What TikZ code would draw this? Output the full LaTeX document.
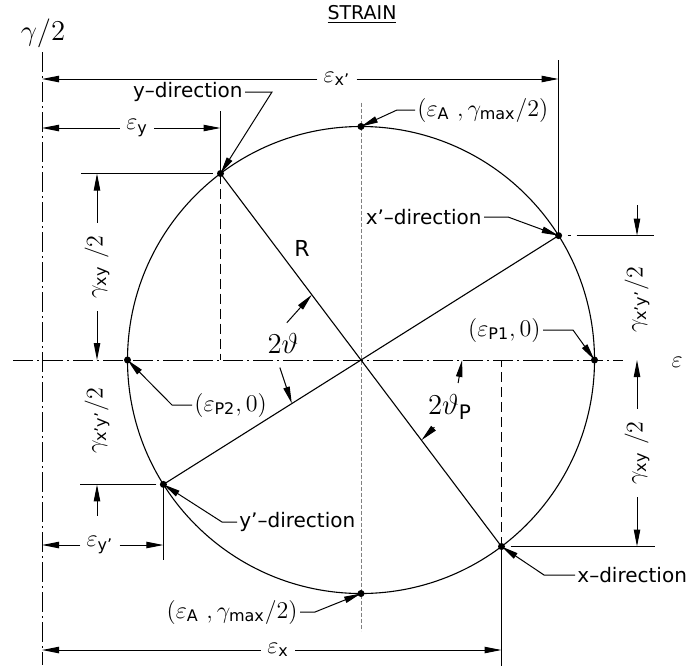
\documentclass[tikz,border=0pt]{standalone}
\usepackage{amsmath}
\usepackage{fontspec}
\setmainfont{DejaVu Sans}
\usetikzlibrary{arrows.meta,calc}

\begin{document}
\begin{tikzpicture}[
    x=0.5pt,y=-0.5pt,
    >={Triangle[length=8.5pt,width=3.2pt]},
    outline/.style={line width=0.55pt, draw=black},
    dimline/.style={line width=0.5pt, draw=black},
    extline/.style={line width=0.5pt, draw=black},
    leader/.style={->, line width=0.5pt, draw=black},
    hidline/.style={line width=0.5pt, draw=black, dash pattern=on 5pt off 2.5pt},
    ctrline/.style={line width=0.5pt, draw=black!50, dash pattern=on 2pt off 1pt},
    axisline/.style={line width=0.5pt, draw=black, dash pattern=on 10pt off 2pt on 1pt off 2pt},
    lbl/.style={font=\fontsize{10}{12}\selectfont, inner sep=1pt},
    mlbl/.style={font=\large, inner sep=1pt},
    dimlbl/.style={font=\large, inner xsep=3pt, inner ysep=1pt},
    vlbl/.style={font=\large, rotate=90, inner xsep=6pt, inner ysep=1pt}
]
    \useasboundingbox (0,0) rectangle (689,665);

    % circle points
    \coordinate (O) at (42,360);
    \coordinate (C) at (361,360);
    \coordinate (Y) at (220.5,173.5);
    \coordinate (X) at (501.5,546.5);
    \coordinate (Xp) at (558.6,235.6);
    \coordinate (Yp) at (163.4,484.4);
    \coordinate (P1) at (594.5,360);
    \coordinate (P2) at (127.5,360);
    \coordinate (At) at (361,126.5);
    \coordinate (Ab) at (361,593.5);

    % axes
    \draw[axisline] (O) ++(0,-308) -- ++(0,613);
    \draw[axisline] (O) ++(-29,0) -- ++(610,0);
    \draw[ctrline] (At) ++(0,-24) -- ++(0,528);

    \draw[outline] (C) circle (233.5);
    \draw[outline] (Y) -- (X);
    \draw[outline] (Xp) -- (Yp);

    % extension lines
    \draw[extline] (Y) -- ++(0,-63);
    \draw[extline] (Y) ++(-8,0) -- ++(-132,0);
    \draw[hidline] (Y) -- (Y |- O);
    \draw[extline] (Xp) -- ++(0,-176);
    \draw[extline] (Xp) ++(9,0) -- ++(3,0);
    \draw[extline] (Xp) ++(18,0) -- ++(77,0);
    \draw[extline] (Yp) ++(-7,0) -- ++(-76,0);
    \draw[extline] (Yp) -- ++(0,76);
    \draw[extline] (X) -- ++(0,119);
    \draw[hidline] (X) -- (X |- O);
    \draw[extline] (X) ++(9,0) -- ++(144,0);

    % titles
    \node[lbl, font=\fontsize{9.5}{11}\selectfont] (tStrain) at (362,14) {\underline{STRAIN}};
    \node[mlbl, font=\Large] (tGam) at (43,33) {$\gamma/2$};
    \node[mlbl] (tEps) at (677,362) {$\varepsilon$};
    \node[lbl, font=\fontsize{11}{13}\selectfont] (tR) at (302,248) {R};

    % horizontal dimensions
    \node[dimlbl] (tExp) at (337,79) {$\varepsilon_{\text{x'}}$};
    \node[dimlbl] (tEy) at (137,128) {$\varepsilon_{\text{y}}$};
    \node[dimlbl] (tEyp) at (100,545) {$\varepsilon_{\text{y'}}$};
    \node[dimlbl] (tEx) at (278,650) {$\varepsilon_{\text{x}}$};
    \draw[dimline,->] (tExp.west) -- (tExp.west -| O);
    \draw[dimline,->] (tExp.east) -- (tExp.east -| Xp);
    \draw[dimline,->] (tEy.west) -- (tEy.west -| O);
    \draw[dimline,->] (tEy.east) -- (tEy.east -| Y);
    \draw[dimline,->] (tEyp.west) -- (tEyp.west -| O);
    \draw[dimline,->] (tEyp.east) -- (tEyp.east -| Yp);
    \draw[dimline,->] (tEx.west) -- (tEx.west -| O);
    \draw[dimline,->] (tEx.east) -- (tEx.east -| X);

    % vertical dimensions
    \node[vlbl] (tGxyL) at (97,267) {$\gamma_{\text{xy}}\ /2$};
    \node[vlbl] (tGxpL) at (97,421) {$\gamma_{\text{x'y'}}/2$};
    \node[vlbl] (tGxpR) at (637,300) {$\gamma_{\text{x'y'}}/2$};
    \node[vlbl] (tGxyR) at (637,453) {$\gamma_{\text{xy}}\ /2$};
    \draw[dimline,->] (tGxyL.east) -- (tGxyL.east |- Y);
    \draw[dimline,->] (tGxyL.west) -- (tGxyL.west |- O);
    \draw[dimline,<-] (tGxpL |- Yp) -- ++(0,32);
    \draw[dimline,<-] (tGxpR |- Xp) -- ++(0,-31);
    \draw[dimline,->] (tGxyR.east) -- (tGxyR.east |- O);
    \draw[dimline,->] (tGxyR.west) -- (tGxyR.west |- X);

    % angles
    \node[mlbl, font=\Large] (t2th) at (283,343) {$2\vartheta$};
    \node[mlbl, font=\Large] (t2thp) at (450,407) {$2\vartheta_{\text{P}}$};
    \draw[dimline,<-] ($(C)!0.35!(Y)$) -- ++(-25,28);
    \draw[dimline,<-] ($(C)!0.35!(Yp)$) -- ++(-12,-36);
    \draw[dimline,<-] ($(C)!0.433!(P1)$) -- ++(-4,23);
    \draw[dimline,<-] ($(C)!0.43!(X)$) -- ++(13,-13);

    % point labels
    \node[lbl, anchor=east] (tY) at (245,92) {y--direction};
    \node[mlbl, anchor=west] (tAt) at (415,110) {$(\varepsilon_{\text{A}}\ ,\gamma_{\text{max}}/2)$};
    \node[lbl, anchor=east] (tXp) at (484,217) {x'--direction};
    \node[mlbl, anchor=east] (tP1) at (543,330) {$(\varepsilon_{\text{P1}},0)$};
    \node[mlbl, anchor=west] (tP2) at (192,405) {$(\varepsilon_{\text{P2}},0)$};
    \node[lbl, anchor=west] (tYp) at (237,522) {y'--direction};
    \node[mlbl, anchor=east] (tAb) at (300,612) {$(\varepsilon_{\text{A}}\ ,\gamma_{\text{max}}/2)$};
    \node[lbl, anchor=west] (tX) at (575,575) {x--direction};

    \draw[leader] (tY.east) -- ++(27,0) -- (Y);
    \draw[leader] (tAt.west) -- ++(-18,0) -- (At);
    \draw[leader] (tXp.east) -- ++(24,0) -- (Xp);
    \draw[leader] (tP1.east) -- ++(30,0) -- (P1);
    \draw[leader] (tP2.west) -- ++(-20,0) -- (P2);
    \draw[leader] (tYp.west) -- ++(-15,0) -- (Yp);
    \draw[leader] (tAb.east) -- ++(15,0) -- (Ab);
    \draw[leader] (tX.west) -- ++(-31,0) -- (X);

    \foreach \p in {Y,X,Xp,Yp,P1,P2,At,Ab}
        \fill (\p) circle (3.5);

\end{tikzpicture}
\end{document}
